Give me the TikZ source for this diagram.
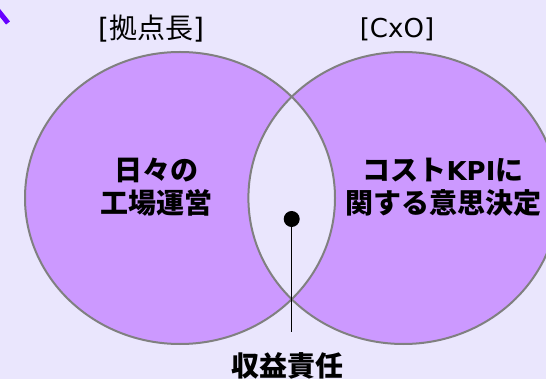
\documentclass[tikz,border=0pt]{standalone}
\usepackage{fontspec}
\setmainfont{Noto Sans CJK JP}
\newfontfamily\latinfont{DejaVu Sans}
\usetikzlibrary{positioning}
\definecolor{venbg}{RGB}{234,230,253}
\definecolor{venfill}{RGB}{204,153,255}
\definecolor{venline}{RGB}{128,128,128}
\definecolor{venmark}{RGB}{102,0,255}

\begin{document}
\begin{tikzpicture}[x=1pt,y=-1pt]
  \tikzstyle{head}=[font=\fontsize{28}{33}\selectfont,text=black,inner sep=0pt]
  \tikzstyle{role}=[font=\fontsize{28}{33}\selectfont\bfseries,text=black,align=center,inner sep=0pt]
  \tikzstyle{rim}=[draw=venline,line width=2pt]
  \tikzstyle{blob}=[x radius=155pt,y radius=146pt]

  % -- Page --
  \fill[venbg] (0,0) rectangle (546,379);
  \useasboundingbox (0,0) rectangle (546,379);
  \clip (0,0) rectangle (546,379);

  % -- Two sets --
  \coordinate (lc) at (180,198);
  \coordinate (rc) at (403.4,198);
  \fill[venfill] (lc) ellipse [blob];
  \fill[venfill] (rc) ellipse [blob];
  \begin{scope}
    \clip (lc) ellipse [blob];
    \fill[venbg] (rc) ellipse [blob];
  \end{scope}
  \draw[rim] (lc) ellipse [blob];
  \draw[rim] (rc) ellipse [blob];

  % -- Headings --
  \node[head] (base) at (151,29) {{\latinfont[}拠点長{\latinfont]}};
  \node[head] (cxo) at (397,29) {\latinfont\fontsize{26}{33}\selectfont[CxO]};

  % -- Roles --
  \node[role] (daily) at (156,187) {日々の\\工場運営};
  \node[role] (cost) at (443,187) {コスト{\latinfont\fontsize{26}{33}\selectfont KPI}に\\関する意思決定};

  % -- Overlap marker --
  \node[circle,fill=black,minimum size=16pt,inner sep=0pt] (dot) at (291.7,219) {};
  \coordinate (tail) at (291.7,332);
  \draw[black,line width=1pt] (dot) -- (tail);
  \node[role] (profit) at (287,366) {収益責任};

  % -- Stray arrow stroke at the corner --
  \coordinate (m1) at (-4,8);
  \coordinate (m2) at (8,23);
  \draw[venmark,line width=5pt] (m1) -- (m2);
\end{tikzpicture}
\end{document}
